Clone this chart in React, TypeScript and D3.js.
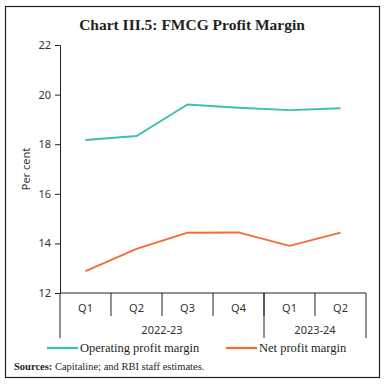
import { useRef, useEffect } from "react";
import * as d3 from "d3";

const quarters: string[] = ["Q1", "Q2", "Q3", "Q4", "Q1", "Q2"];
const years: { label: string; span: number }[] = [
    { label: "2022-23", span: 4 },
    { label: "2023-24", span: 2 },
];
const operatingMargin: number[] = [18.17, 18.33, 19.6, 19.47, 19.37, 19.45];
const netMargin: number[] = [12.88, 13.78, 14.43, 14.44, 13.9, 14.43];
const yTicks: number[] = [12, 14, 16, 18, 20, 22];

const serif = "'Liberation Serif', 'DejaVu Serif', serif";
const sans = "'Noto Sans', 'Open Sans', sans-serif";

const App: React.FC = () => {
    const svgRef = useRef<SVGSVGElement | null>(null);

    useEffect(() => {
        if (!svgRef.current) return;
        const width = 384;
        const height = 385;
        const left = 60;
        const right = 366;
        const top = 45;
        const bottom = 293;

        const svg = d3.select(svgRef.current);
        svg.selectAll("*").remove();
        svg.attr("width", width).attr("height", height);

        svg.append("rect")
            .attr("x", 5.5)
            .attr("y", 6.5)
            .attr("width", 374)
            .attr("height", 371)
            .attr("fill", "#fff")
            .attr("stroke", "#222")
            .attr("stroke-width", 1.2);

        svg.append("text")
            .attr("x", 192)
            .attr("y", 30)
            .attr("text-anchor", "middle")
            .attr("font-family", serif)
            .attr("font-size", 15.5)
            .attr("font-weight", "bold")
            .attr("fill", "#231f20")
            .text("Chart III.5: FMCG Profit Margin");

        const idx = d3.range(quarters.length).map(String);
        const x = d3.scaleBand<string>().domain(idx).range([left, right]);
        const y = d3.scaleLinear().domain([12, 22]).range([bottom, top]);

        // y axis
        const yAxis = svg
            .append("g")
            .attr("transform", `translate(${left},0)`)
            .call(d3.axisLeft(y).tickValues(yTicks).tickSize(5).tickPadding(4));
        yAxis.select(".domain").attr("stroke", "#222");
        yAxis.selectAll("line").attr("stroke", "#222");
        yAxis.selectAll("text")
            .attr("font-family", sans)
            .attr("font-size", 11)
            .attr("fill", "#333");

        svg.append("text")
            .attr("transform", `translate(30,${(top + bottom) / 2}) rotate(-90)`)
            .attr("text-anchor", "middle")
            .attr("font-family", sans)
            .attr("font-size", 11)
            .attr("fill", "#333")
            .text("Per cent");

        // x axis
        const ax = svg.append("g").attr("stroke", "#222").attr("stroke-width", 1);
        ax.append("line")
            .attr("x1", left)
            .attr("x2", right)
            .attr("y1", bottom)
            .attr("y2", bottom);
        const bw = x.bandwidth();
        idx.forEach((k, i) => {
            const bx = x(k)!;
            if (i > 0) {
                ax.append("line")
                    .attr("x1", bx)
                    .attr("x2", bx)
                    .attr("y1", bottom)
                    .attr("y2", 316);
            }
            svg.append("text")
                .attr("x", bx + bw / 2)
                .attr("y", 312)
                .attr("text-anchor", "middle")
                .attr("font-family", sans)
                .attr("font-size", 11)
                .attr("fill", "#333")
                .text(quarters[i]);
        });
        let start = 0;
        const bounds: number[] = [left];
        years.forEach((yr) => {
            const x0 = x(String(start))!;
            const x1 = x0 + bw * yr.span;
            bounds.push(x1);
            svg.append("text")
                .attr("x", (x0 + x1) / 2)
                .attr("y", 334)
                .attr("text-anchor", "middle")
                .attr("font-family", sans)
                .attr("font-size", 11)
                .attr("fill", "#333")
                .text(yr.label);
            start += yr.span;
        });
        bounds.forEach((b) => {
            ax.append("line")
                .attr("x1", b)
                .attr("x2", b)
                .attr("y1", bottom)
                .attr("y2", 338);
        });

        const line = d3
            .line<number>()
            .x((_d, i) => x(String(i))! + bw / 2)
            .y((d) => y(d));

        const series = [
            { name: "Operating profit margin", values: operatingMargin, color: "#3fbfae" },
            { name: "Net profit margin", values: netMargin, color: "#f26d35" },
        ];
        series.forEach((s) => {
            svg.append("path")
                .datum(s.values)
                .attr("d", line)
                .attr("fill", "none")
                .attr("stroke", s.color)
                .attr("stroke-width", 1.8);
        });

        // legend
        const legendX = [47, 226];
        series.forEach((s, i) => {
            svg.append("line")
                .attr("x1", legendX[i])
                .attr("x2", legendX[i] + 31)
                .attr("y1", 348)
                .attr("y2", 348)
                .attr("stroke", s.color)
                .attr("stroke-width", 2.2);
            svg.append("text")
                .attr("x", legendX[i] + 33)
                .attr("y", 352)
                .attr("font-family", serif)
                .attr("font-size", 12.5)
                .attr("fill", "#231f20")
                .text(s.name);
        });

        const src = svg
            .append("text")
            .attr("x", 14)
            .attr("y", 370)
            .attr("font-family", serif)
            .attr("font-size", 10.5)
            .attr("fill", "#231f20");
        src.append("tspan").attr("font-weight", "bold").text("Sources:");
        src.append("tspan").text(" Capitaline; and RBI staff estimates.");
    }, []);

    return (
        <div style={{ position: "absolute", left: 0, top: 0 }}>
            <svg ref={svgRef} style={{ display: "block" }} />
        </div>
    );
};

export default App;
